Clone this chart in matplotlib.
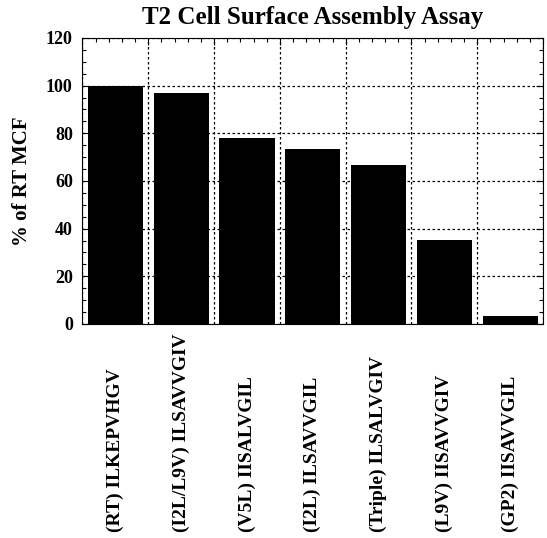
import numpy as np
import matplotlib
matplotlib.use("Agg")
import matplotlib.pyplot as plt
from matplotlib.ticker import MultipleLocator, FixedLocator
from matplotlib.transforms import blended_transform_factory

plt.rcParams["font.family"] = ["Liberation Serif", "DejaVu Serif"]
plt.rcParams["font.weight"] = "bold"

labels = [
    "(RT) ILKEPVHGV",
    "(I2L/L9V) ILSAVVGIV",
    "(V5L) IISALVGIL",
    "(I2L) ILSAVVGIL",
    "(Triple) ILSALVGIV",
    "(L9V) IISAVVGIV",
    "(GP2) IISAVVGIL",
]
values = [100, 96.8, 78, 73.5, 66.8, 35.2, 3.4]

fig = plt.figure(figsize=(5.47, 5.38), dpi=100)
ax = fig.add_axes([0.1508, 0.3978, 0.8420, 0.5316])

x = np.arange(len(labels))
ax.bar(x, values, width=0.84, color="black", zorder=2)

n = len(labels)
ax.set_xlim(-0.5, n - 0.5)
ax.set_ylim(0, 120)

# category boundaries carry the vertical grid
ax.set_xticks(np.arange(n + 1) - 0.5)
ax.set_xticklabels([])
ax.xaxis.set_minor_locator(FixedLocator(np.arange(-0.5, n - 0.49, 0.2)))
ax.yaxis.set_major_locator(MultipleLocator(20))
ax.yaxis.set_minor_locator(MultipleLocator(5))
ax.tick_params(which="both", direction="in", top=True, right=True, width=0.8)
ax.tick_params(which="major", length=5, labelsize=13, pad=7)
ax.tick_params(which="minor", length=3)
ax.tick_params(axis="x", which="both", bottom=False)
for t in ax.get_yticklabels():
    t.set_fontweight("bold")

ax.set_axisbelow(True)
ax.grid(True, which="major", color="black", linestyle=(0, (2, 2)), linewidth=0.9)
for s in ax.spines.values():
    s.set_linewidth(0.8)

ax.set_ylabel("% of RT MCF", fontsize=15, fontweight="bold", labelpad=10)
ax.set_title("T2 Cell Surface Assembly Assay", fontsize=18, fontweight="bold", pad=10)

trans = blended_transform_factory(ax.transData, fig.transFigure)
for xi, lab in zip(x, labels):
    ax.text(xi, 0.012, lab, rotation=90, ha="center", va="bottom",
            fontsize=14, fontweight="bold", transform=trans)

fig.savefig("out.png", dpi=100)
